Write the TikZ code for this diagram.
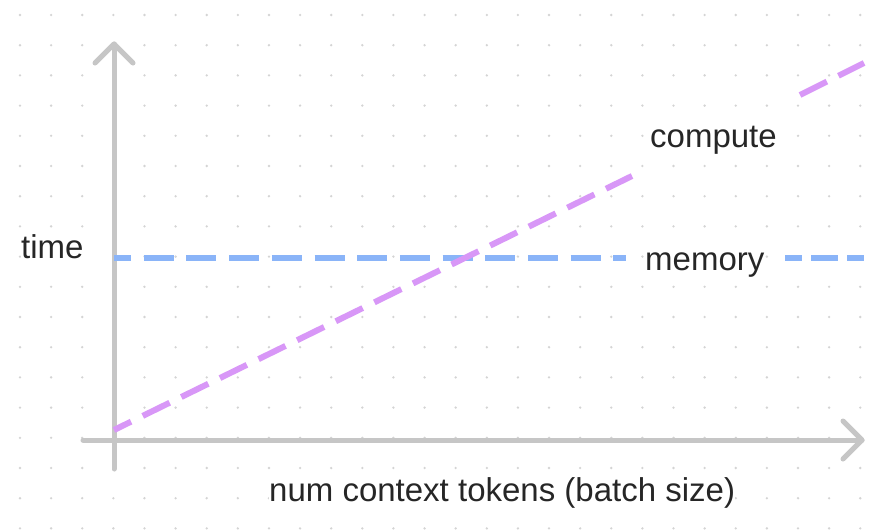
\documentclass[tikz,border=0pt]{standalone}
\usepackage{fontspec}
\setmainfont{Liberation Sans}
\usetikzlibrary{calc}
\definecolor{axisgray}{HTML}{C6C6C6}
\definecolor{dotgray}{HTML}{D4D4D4}
\definecolor{computeviolet}{HTML}{D897F7}
\definecolor{memoryblue}{HTML}{8AB4F8}
\definecolor{labeltext}{HTML}{262626}
\tikzset{
  axisline/.style={draw=axisgray, line width=5pt, line cap=round, line join=round},
  computeline/.style={draw=computeviolet, line width=6pt, dash pattern=on 30pt off 13pt, dash phase=11pt},
  memoryline/.style={draw=memoryblue, line width=5.5pt, dash pattern=on 30pt off 12.7pt, dash phase=13pt},
  plotlabel/.style={text=labeltext, font=\fontsize{33}{36}\selectfont, inner sep=0pt, anchor=base west, fill=white},
}
\begin{document}
\begin{tikzpicture}[x=1pt, y=-1pt]
  % canvas
  \fill[white] (0,0) rectangle (879,530);
  \useasboundingbox (0,0) rectangle (879,530);

  % dotted background grid
  \foreach \i in {0,...,27} {
    \foreach \j in {0,...,17} {
      \fill[dotgray] ({20+31.12*\i},{15+30.2*\j}) circle (1.3pt);
    }
  }

  % axes
  \coordinate (origin) at (114,440);
  \coordinate (ytop) at (114,44);
  \coordinate (ybot) at (114,469);
  \coordinate (xleft) at (83,440);
  \coordinate (xright) at (862,440);
  \draw[axisline] (ybot) -- (ytop);
  \draw[axisline] (xleft) -- (xright);
  \draw[axisline] ($(ytop)+(-19,19)$) -- (ytop) -- ($(ytop)+(19,19)$);
  \draw[axisline] ($(xright)+(-19,-19)$) -- (xright) -- ($(xright)+(-19,19)$);

  % memory: constant time
  \coordinate (m0) at (114,258);
  \coordinate (m1) at (626,258);
  \coordinate (m2) at (785,258);
  \coordinate (m3) at (864,258);
  \draw[memoryline] (m0) -- (m1);
  \draw[memoryline, dash pattern=on 27pt off 9pt, dash phase=10pt] (m2) -- (m3);

  % compute: grows with the batch
  \coordinate (c0) at (114,430);
  \coordinate (c1) at (632,176);
  \coordinate (c2) at (800,95);
  \coordinate (c3) at (864,63);
  \draw[computeline] (c0) -- (c1);
  \draw[computeline, dash phase=0pt] (c2) -- (c3);

  % labels
  \node[plotlabel] (ylabel) at (21,258) {time};
  \node[plotlabel] (clabel) at (650,147) {compute};
  \node[plotlabel] (mlabel) at (645,270) {memory};
  \node[plotlabel] (xlabel) at (269,501) {num context tokens (batch size)};
\end{tikzpicture}
\end{document}
